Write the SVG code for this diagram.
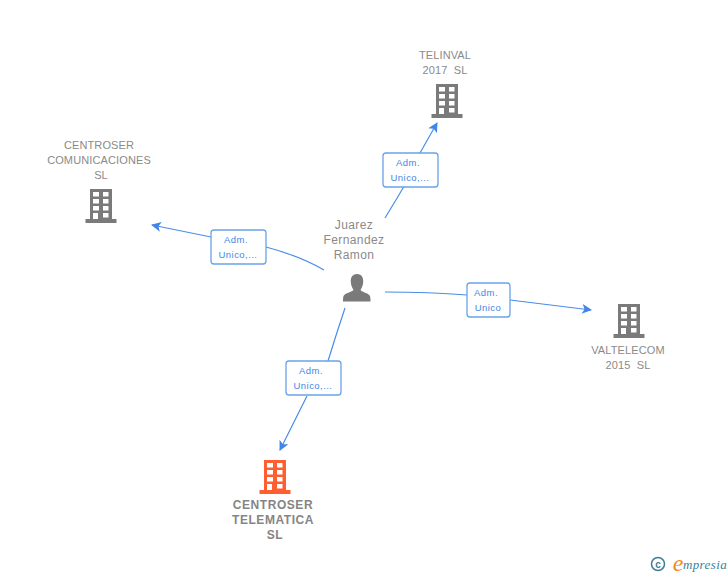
<svg xmlns="http://www.w3.org/2000/svg" width="728" height="575" viewBox="0 0 728 575">
<style>
text{font-family:"Liberation Sans",Arial,sans-serif;text-anchor:middle;white-space:pre}
.n{font-size:11px;fill:#8a8a8a;letter-spacing:.12px}
.p{font-size:12px;fill:#8a8a8a;letter-spacing:.4px}
.b{font-size:12px;font-weight:bold;fill:#858585;letter-spacing:.55px}
.l{font-size:9.500px;fill:#3f86e8;letter-spacing:.45px}
.c{fill:none;stroke:#4a8de8;stroke-width:1.200}
.box{fill:#fff;stroke:#6aa2ea;stroke-width:1.300}
.gr{fill:#7a7a7a}
.or{fill:#ff5f30}
</style>
<defs>
<marker id="a" markerWidth="12" markerHeight="12" refX="9" refY="5" orient="auto" markerUnits="userSpaceOnUse"><path d="M0 0L10 5L0 10L2.500 5Z" fill="#3f86e8"/></marker>
<path id="bld" fill-rule="evenodd" d="M-11 0H11V30H15.500V34H-15.500V30H-11ZM-8 3V7.500H-2V3ZM2 3V7.500H7.500V3ZM-8 10V14.500H-2V10ZM2 10V14.500H7.500V10ZM-8 17V21.500H-2V17ZM2 17V21.500H7.500V17ZM-8 24V30H-3V24ZM2 24V28.500H7.500V24Z"/>
</defs>
<g id="connectors">
<path class="c" d="M385 218Q398 197 410 176M420 153L437 123" marker-end="url(#a)"/>
<path class="c" d="M324 270Q300 256 266 247M211 237L152 225" marker-end="url(#a)"/>
<path class="c" d="M385 292Q430 292 467 295M510 300L591 310" marker-end="url(#a)"/>
<path class="c" d="M345 308Q336 335 328 361M307 396L280 450" marker-end="url(#a)"/>
</g>
<g id="label-telinval"><rect class="box" x="383" y="153" width="55" height="34" rx="3"/><text class="l" x="408" y="166">Adm.</text><text class="l" x="410" y="181">Unico,...</text></g>
<g id="label-comunicaciones"><rect class="box" x="211" y="230" width="55" height="34" rx="3"/><text class="l" x="236" y="243">Adm.</text><text class="l" x="238" y="258">Unico,...</text></g>
<g id="label-valtelecom"><rect class="box" x="467" y="283" width="43" height="34" rx="3"/><text class="l" x="486" y="296">Adm.</text><text class="l" x="488" y="311">Unico</text></g>
<g id="label-telematica"><rect class="box" x="286" y="361" width="55" height="34" rx="3"/><text class="l" x="311" y="374">Adm.</text><text class="l" x="313" y="389">Unico,...</text></g>
<g id="node-person">
<text class="p" x="354" y="229">Juarez</text><text class="p" x="354" y="244">Fernandez</text><text class="p" x="354" y="259">Ramon</text>
<path class="gr" d="M357 274C352 274 350.500 278 350.800 282C351 286 352.500 288 353.500 290C352 292 345 293 343.500 296C343 298 343 300 343 301.500H370.500C370.500 300 370.500 298 370 296C368.500 293 361.500 292 360.500 290C361.500 288 363 286 363.200 282C363.500 278 362 274 357 274Z"/>
</g>
<g id="node-telinval"><text class="n" x="445" y="59">TELINVAL</text><text class="n" x="445" y="74">2017  SL</text><use href="#bld" x="447" y="84" class="gr"/></g>
<g id="node-comunicaciones"><text class="n" x="99" y="149">CENTROSER</text><text class="n" x="99" y="164">COMUNICACIONES</text><text class="n" x="101" y="179">SL</text><use href="#bld" x="101" y="189" class="gr"/></g>
<g id="node-valtelecom"><use href="#bld" x="629" y="304" class="gr"/><text class="n" x="628" y="354">VALTELECOM</text><text class="n" x="628" y="369">2015  SL</text></g>
<g id="node-telematica"><use href="#bld" x="275" y="460" class="or"/><text class="b" x="273" y="509">CENTROSER</text><text class="b" x="273" y="524">TELEMATICA</text><text class="b" x="275" y="539">SL</text></g>
<g id="logo">
<circle cx="658" cy="564" r="6.500" fill="none" stroke="#3d7f96" stroke-width="1.500"/>
<text x="658" y="567.500" style="font-size:10px;font-weight:bold;fill:#3d7f96">c</text>
<text x="678" y="571" style="font-family:'Liberation Serif',serif;font-style:italic;font-size:24px;fill:#f08a1d">e</text>
<text x="705" y="569" style="font-family:'Liberation Serif',serif;font-style:italic;font-size:13px;fill:#3d7f96;letter-spacing:.4px">mpresia</text>
</g>
</svg>
